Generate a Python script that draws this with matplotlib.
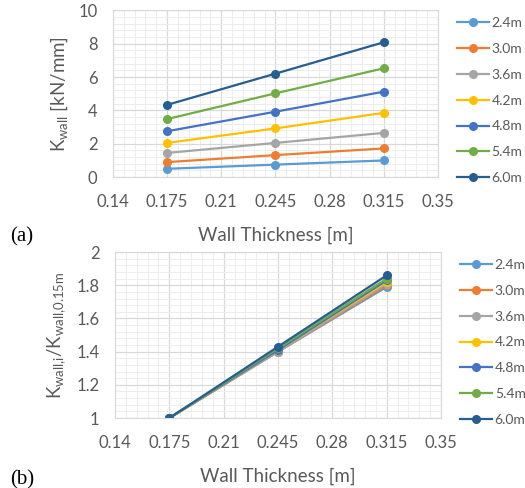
import matplotlib
matplotlib.use("Agg")
import matplotlib.pyplot as plt
from matplotlib.ticker import MultipleLocator

# -----------------------------
# DATA
# -----------------------------

thickness = [0.175, 0.245, 0.315]
heights = ["2.4m", "3.0m", "3.6m", "4.2m", "4.8m", "5.4m", "6.0m"]
colors = ["#5B9BD5", "#ED7D31", "#A5A5A5", "#FFC000", "#4472C4", "#70AD47", "#255E91"]

k_wall = [
    [0.50, 0.75, 1.00],
    [0.90, 1.32, 1.72],
    [1.45, 2.05, 2.65],
    [2.05, 2.92, 3.85],
    [2.75, 3.92, 5.12],
    [3.48, 5.02, 6.52],
    [4.33, 6.20, 8.08],
]

k_ratio = [
    [1.0, 1.40, 1.79],
    [1.0, 1.40, 1.80],
    [1.0, 1.40, 1.81],
    [1.0, 1.41, 1.82],
    [1.0, 1.41, 1.83],
    [1.0, 1.42, 1.84],
    [1.0, 1.43, 1.86],
]

x_ticks = [0.14, 0.175, 0.21, 0.245, 0.28, 0.315, 0.35]
x_labels = ["0.14", "0.175", "0.21", "0.245", "0.28", "0.315", "0.35"]
ya_ticks = [0, 2, 4, 6, 8, 10]
yb_ticks = [1, 1.2, 1.4, 1.6, 1.8, 2]
yb_labels = ["1", "1.2", "1.4", "1.6", "1.8", "2"]

# -----------------------------
# STYLE
# -----------------------------

plt.rcParams["font.family"] = ["Lato", "DejaVu Sans"]
txt = "#595959"

fig = plt.figure(figsize=(5.25, 4.88), dpi=100)


def style_axes(ax, yticks, ylabels, ymin, ymax, yminor):
    ax.set_xlim(0.14, 0.35)
    ax.set_ylim(ymin, ymax)
    ax.set_xticks(x_ticks)
    ax.set_xticklabels(x_labels)
    ax.set_yticks(yticks)
    ax.set_yticklabels(ylabels)
    ax.xaxis.set_minor_locator(MultipleLocator(0.007))
    ax.yaxis.set_minor_locator(MultipleLocator(yminor))
    ax.grid(which="major", color="#D9D9D9", linewidth=0.9)
    ax.grid(which="minor", color="#EDEDED", linewidth=0.7)
    ax.set_axisbelow(True)
    ax.tick_params(which="both", length=0, labelsize=12, colors=txt)
    ax.tick_params(axis="x", pad=12)
    ax.tick_params(axis="y", pad=11)
    for s in ax.spines.values():
        s.set_color("#D9D9D9")
    ax.set_xlabel("Wall Thickness [m]", fontsize=13.5, color=txt, labelpad=12)


def add_legend(ax):
    ax.legend(loc="upper left", bbox_to_anchor=(1.02, 1.035), frameon=False,
              fontsize=10, labelcolor=txt, handlelength=2.3, labelspacing=1.0,
              handletextpad=0.2)


# -----------------------------
# PANEL (a)
# -----------------------------

ax1 = fig.add_axes([0.215, 0.637, 0.619, 0.342])
for name, col, vals in zip(heights, colors, k_wall):
    ax1.plot(thickness, vals, color=col, marker="o", markersize=5.5,
             linewidth=1.6, label=name)
style_axes(ax1, ya_ticks, [str(t) for t in ya_ticks], 0, 10, 0.4)
ax1.set_ylabel(r"K$_\mathregular{wall}$ [kN/mm]", fontsize=13.5, color=txt,
               labelpad=6)
add_legend(ax1)
fig.text(0.02, 0.506, "(a)", fontsize=15, family="Liberation Serif", color="black")

# -----------------------------
# PANEL (b)
# -----------------------------

ax2 = fig.add_axes([0.219, 0.1434, 0.621, 0.340])
for name, col, vals in zip(heights, colors, k_ratio):
    ax2.plot(thickness, vals, color=col, marker="o", markersize=5.5,
             linewidth=1.6, label=name)
style_axes(ax2, yb_ticks, yb_labels, 1, 2, 0.04)
ax2.set_ylabel(r"K$_\mathregular{wall{,}i}$/K$_\mathregular{wall{,}0.15m}$",
               fontsize=13.5, color=txt, labelpad=6)
add_legend(ax2)
fig.text(0.02, 0.008, "(b)", fontsize=15, family="Liberation Serif", color="black")

fig.savefig("out.png", dpi=100)
